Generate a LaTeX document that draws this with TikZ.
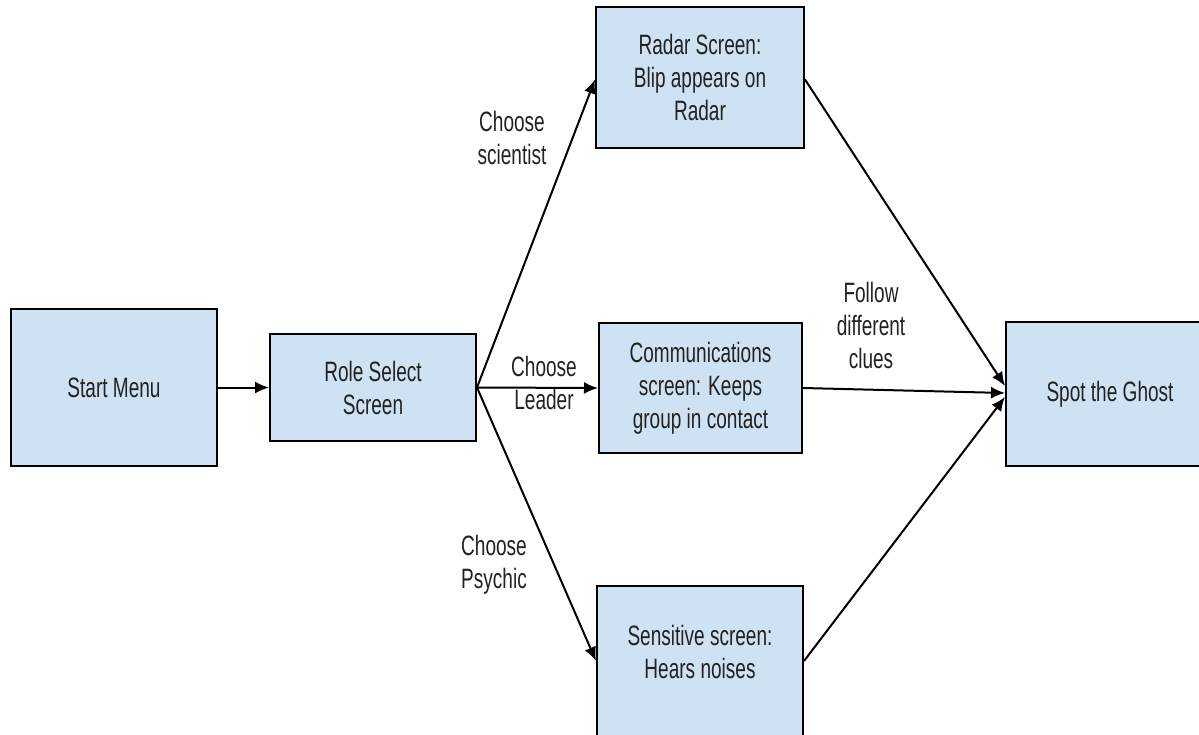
\documentclass[tikz,border=0pt]{standalone}
\usepackage{fontspec}
\setmainfont{Liberation Sans}[FakeStretch=0.68]
\usetikzlibrary{arrows.meta}
\definecolor{boxfill}{HTML}{CFE2F3}
\definecolor{txt}{HTML}{222222}
\tikzset{
  box/.style={draw=black, line width=2pt, fill=boxfill, text=txt, align=center, inner sep=0pt,
    font=\fontsize{28}{33}\selectfont},
  lbl/.style={text=txt, align=center, inner sep=0pt, font=\fontsize{28}{33}\selectfont},
  conn/.style={draw=black, line width=2pt, -{Latex[length=14pt,width=12pt]}}
}
\begin{document}
\begin{tikzpicture}[x=1pt,y=-1pt]
\useasboundingbox (0,0) rectangle (1199,734);
\clip (0,0) rectangle (1199,734);
\node[box, minimum width=206pt, minimum height=157pt] (start) at (114,387.5) {Start Menu};
\node[box, minimum width=206pt, minimum height=107pt] (role) at (373,387.5) {Role Select\\Screen};
\node[box, minimum width=208pt, minimum height=141pt] (radar) at (700,77.5) {Radar Screen:\\Blip appears on\\Radar};
\node[box, minimum width=203pt, minimum height=130pt] (comm) at (700.5,388) {Communications\\screen: Keeps\\group in contact};
\node[box, minimum width=206pt, minimum height=150pt] (sens) at (700,661) {};
\node[lbl] (senstext) at (700,652) {Sensitive screen:\\Hears noises};
\node[box, minimum width=208pt, minimum height=144pt] (spot) at (1110,394) {Spot the Ghost};

\node[lbl] (l1) at (512,138) {Choose\\scientist};
\node[lbl] (l2) at (544,383) {Choose\\Leader};
\node[lbl] (l3) at (494,565) {Choose\\Psychic};
\node[lbl] (l4) at (871,325) {Follow\\different\\clues};

\draw[conn] (start.east) -- (role.west);
\draw[conn] (role.east) -- ([yshift=-2pt]radar.west);
\draw[conn] (role.east) -- (comm.west);
\draw[conn] (role.east) -- (sens.west);
\draw[conn] ([yshift=-2pt]radar.east) -- ([yshift=8pt]spot.west);
\draw[conn] (comm.east) -- ([yshift=1pt]spot.west);
\draw[conn] (sens.east) -- ([yshift=-3pt]spot.west);
\end{tikzpicture}
\end{document}
